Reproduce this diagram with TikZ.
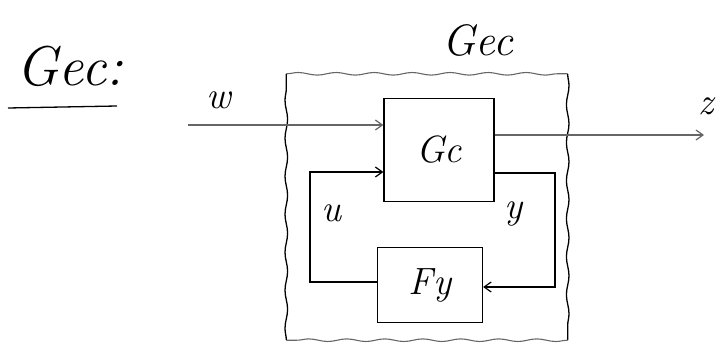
\documentclass[tikz,border=0pt]{standalone}
\usetikzlibrary{arrows.meta,decorations.pathmorphing}
\begin{document}
\begin{tikzpicture}[x=1pt,y=-1pt,
  ink/.style={line width=1.3pt,black},
  faint/.style={line width=1.1pt,black!60},
  blockbox/.style={draw,ink,inner sep=0pt,font=\fontsize{38}{38}\selectfont\itshape},
  sig/.style={font=\fontsize{38}{38}\selectfont\itshape,inner sep=0pt},
  title/.style={font=\fontsize{56}{56}\selectfont\itshape,inner sep=0pt},
  tip/.style={-{Straight Barb[length=7pt,width=10pt,line width=1.2pt]}},
  wobble/.style={decorate,decoration={snake,amplitude=1.3pt,segment length=38pt}}]
\useasboundingbox (0,0) rectangle (726,350);

% closed-loop system boundary
\node[minimum width=281pt,minimum height=266pt,inner sep=0pt]
  (outer) at (427,207) {};
\draw[faint,wobble] (outer.north west) -- (outer.north east);
\draw[ink,wobble] (outer.north east) -- (outer.south east);
\draw[faint,wobble] (outer.south east) -- (outer.south west);
\draw[ink,wobble] (outer.south west) -- (outer.north west);
\node[title,font=\fontsize{44}{44}\selectfont\itshape] (outerlbl) at (478,40) {Gec};

% heading
\node[title] (head) at (70,66) {Gec:};
\coordinate (ul1) at (8,108);
\coordinate (ul2) at (117,106);
\draw[ink] (ul1) -- (ul2);

% blocks
\node[blockbox,minimum width=110pt,minimum height=103pt] (gc) at (439,150) {Gc};
\node[blockbox,minimum width=105pt,minimum height=75pt] (fy) at (430,285) {Fy};

% exogenous input and performance output
\coordinate (win) at (188,125);
\draw[faint,tip] (win) -- (gc.west |- win);
\node[sig] (wlbl) at (219,100) {w};
\coordinate (zout) at (704,135);
\draw[faint,tip] (gc.east |- zout) -- (zout);
\node[sig] (zlbl) at (706,106) {z};

% control input loop
\coordinate (ub) at (310,282);
\coordinate (ut) at (310,172);
\draw[ink,tip] (fy.west |- ub) -- (ub) -- (ut) -- (gc.west |- ut);
\node[sig] (ulbl) at (331,213) {u};

% measurement loop
\coordinate (yt) at (555,173);
\coordinate (yb) at (555,287);
\draw[ink,tip] (gc.east |- yt) -- (yt) -- (yb) -- (fy.east |- yb);
\node[sig] (ylbl) at (514,214) {y};
\end{tikzpicture}
\end{document}
